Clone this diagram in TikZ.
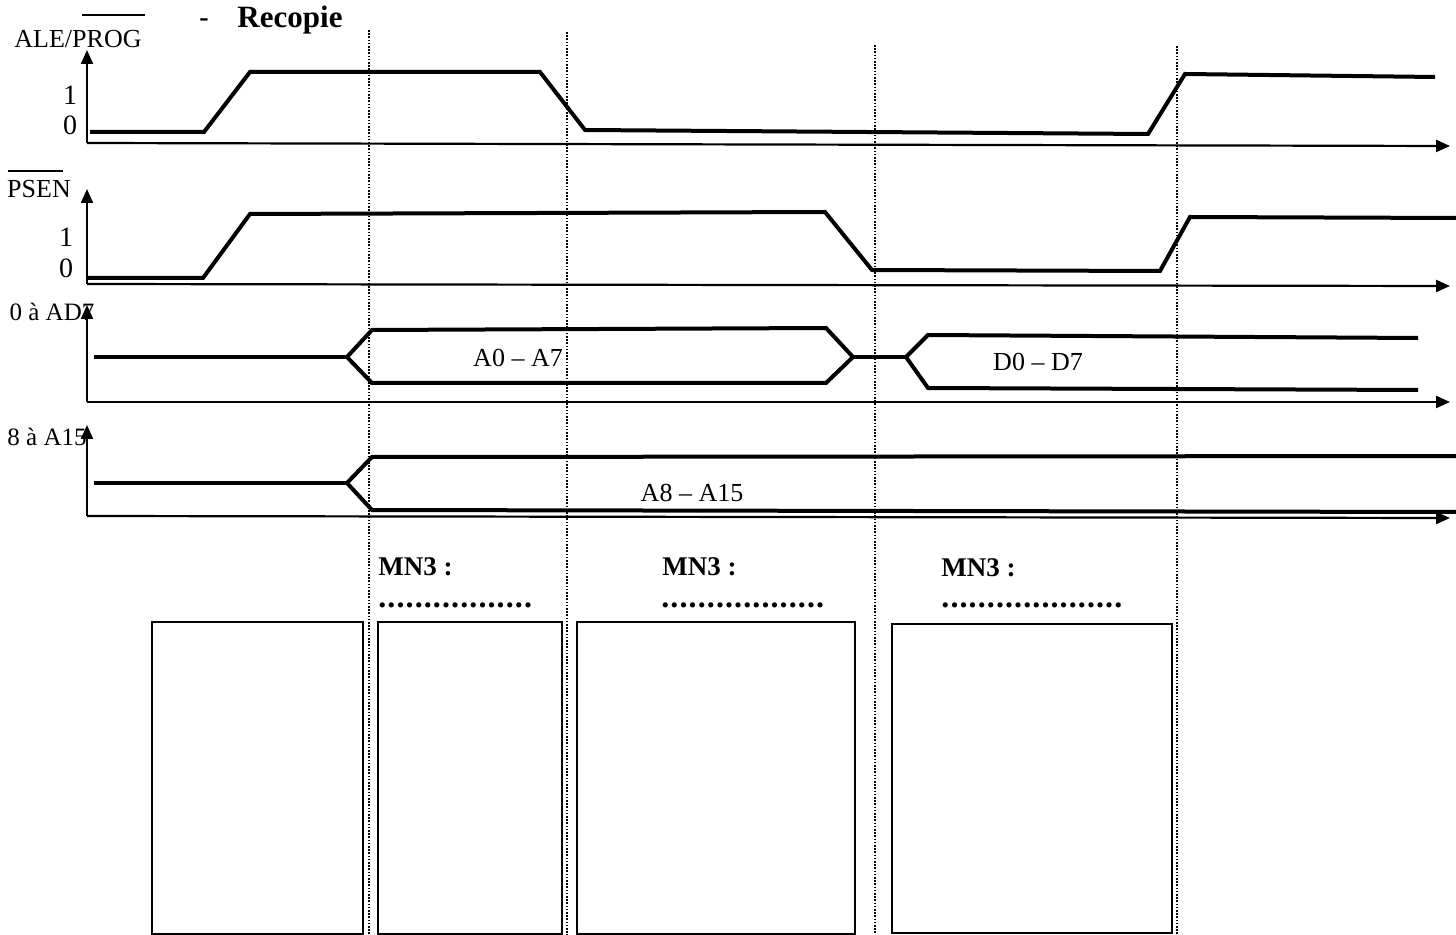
\documentclass[tikz,border=0pt]{standalone}
\usepackage{fontspec}
\setmainfont{Liberation Serif}
\usetikzlibrary{arrows.meta}
\newcommand{\dotrow}[1]{\foreach \i in {1,...,#1}{\textbf{.}\kern0.55pt}}
\tikzset{
  axis/.style={line width=1.1pt,-{Triangle[length=7pt,width=6pt]}},
  wave/.style={line width=2pt,line join=miter},
  guide/.style={line width=0.9pt,dash pattern=on 0.8pt off 0.8pt},
  slot/.style={line width=1.1pt},
  lbl/.style={font=\fontsize{13}{15}\selectfont,inner sep=0pt},
  num/.style={font=\fontsize{14}{15}\selectfont,inner sep=0pt},
  sig/.style={font=\fontsize{12.5}{15}\selectfont,inner sep=0pt},
  mnlbl/.style={font=\fontsize{13.5}{15}\selectfont\bfseries,inner sep=0pt},
  dotlbl/.style={font=\fontsize{16}{18}\selectfont,inner sep=0pt,text height=2.5pt,text depth=0pt},
}
\begin{document}
\begin{tikzpicture}[x=0.5pt,y=-0.5pt]
\useasboundingbox (0,0) rectangle (1456,935);
% title
\node[lbl] (ale) at (78,39) {ALE/PROG};
\draw[line width=1.1pt] (82,15) -- (145,15);
\node[font=\fontsize{14}{16}\selectfont\bfseries,inner sep=0pt] (dash) at (204,23) {-};
\node[font=\fontsize{15.5}{17}\selectfont\bfseries,inner sep=0pt] (title) at (290,20) {Recopie};
% guides
\draw[guide] (369,30) -- (369,935);
\draw[guide] (567,32) -- (567,935);
\draw[guide] (875,45) -- (875,935);
\draw[guide] (1177,46) -- (1177,935);
% ---- ALE axis
\draw[axis] (87,143) -- (87,50);
\draw[axis] (87,143) -- (1450,146);
\node[num] (ale1) at (70,95) {1};
\node[num] (ale0) at (70,125) {0};
\draw[wave] (90,132) -- (204,132) -- (250,72) -- (540,72) -- (585,130) -- (1148,134) -- (1185,74) -- (1435,77);
% ---- PSEN axis
\node[lbl] (psen) at (39,189) {PSEN};
\draw[line width=1.1pt] (8,171) -- (63,171);
\draw[axis] (87,284) -- (87,189);
\draw[axis] (87,284) -- (1450,286);
\node[num] (psen1) at (66,237) {1};
\node[num] (psen0) at (66,268) {0};
\draw[wave] (88,278) -- (203,278) -- (250,214) -- (825,212) -- (872,270) -- (1160,271) -- (1190,217) -- (1456,218);
% ---- AD0-7
\node[sig] (ad) at (52,312) {0 à AD7};
\draw[axis] (87,402) -- (87,305);
\draw[axis] (87,402) -- (1450,402);
\draw[wave] (94,357) -- (347,357);
\draw[wave] (372,383) -- (347,357) -- (372,330) -- (826,328) -- (853,357) -- (826,383) -- cycle;
\draw[wave] (853,357) -- (906,357);
\draw[wave] (1418,338) -- (928,335) -- (906,357) -- (928,388) -- (1418,390);
\node[lbl] (a07) at (518,358) {A0 – A7};
\node[lbl] (d07) at (1038,362) {D0 – D7};
% ---- A8-15
\node[sig] (ah) at (47,437) {8 à A15};
\draw[axis] (87,516) -- (87,425);
\draw[axis] (87,516) -- (1450,518);
\draw[wave] (94,483) -- (347,483);
\draw[wave] (1456,456) -- (372,457) -- (347,483) -- (372,510) -- (1456,512);
\node[lbl] (a815) at (692,493) {A8 – A15};
% ---- MN3 labels
\node[mnlbl,anchor=west] (mn1) at (378,567) {MN3 :};
\node[mnlbl,anchor=west] (mn2) at (662,567) {MN3 :};
\node[mnlbl,anchor=west] (mn3) at (941,568) {MN3 :};
\node[dotlbl,anchor=base west] (dt1) at (378,607) {\dotrow{17}};
\node[dotlbl,anchor=base west] (dt2) at (661,607) {\dotrow{18}};
\node[dotlbl,anchor=base west] (dt3) at (941,607) {\dotrow{20}};
% ---- boxes
\draw[slot] (152,622) rectangle (363,934);
\draw[slot] (378,622) rectangle (562,934);
\draw[slot] (577,622) rectangle (855,934);
\draw[slot] (892,624) rectangle (1172,933);
\end{tikzpicture}
\end{document}
